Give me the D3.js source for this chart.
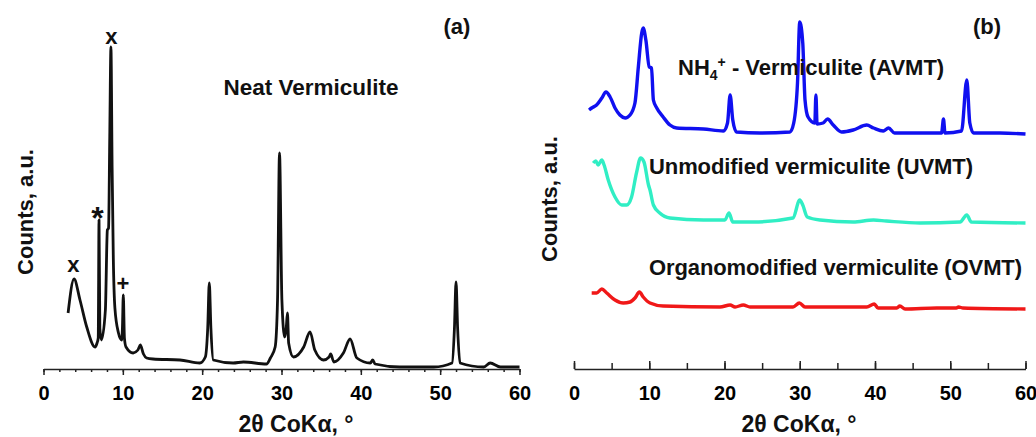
<!DOCTYPE html>
<html>
<head>
<meta charset="utf-8">
<script src="https://cdn.jsdelivr.net/npm/d3@7"></script>
<style>
  body { margin: 0; background: #fff; }
  svg { display: block; font-family: Arial, "Liberation Sans", sans-serif; }
  .tick text { font-size: 20px; font-weight: bold; fill: #000; }
  .lbl { font-weight: bold; fill: #111; }
</style>
</head>
<body>
<svg id="chart" width="1036" height="437"></svg>
<script>
// panel (a) neat vermiculite: 2theta and counts (a.u.)
const neatTheta = [3.1, 3.85, 4.6, 5.45, 6.5, 6.75, 6.9, 7.0, 7.1, 7.3, 7.8, 8.05, 8.2, 8.35, 8.5, 8.65, 8.8, 9.0, 9.45, 9.85, 9.95, 10.06, 10.2, 10.4, 11.3, 11.9, 12.2, 12.6, 13.0, 13.8, 17.2, 19.7, 20.4, 20.7, 20.9, 21.1, 21.4, 23.9, 25.2, 28.1, 28.6, 29.2, 29.5, 29.75, 30.05, 30.4, 30.6, 30.75, 30.9, 31.5, 32.8, 33.6, 34.2, 35.3, 36.0, 36.2, 36.6, 37.8, 38.65, 39.5, 41.2, 41.5, 41.8, 44.9, 49.2, 51.5, 51.8, 52.0, 52.2, 52.5, 55.5, 56.3, 57.6, 60];
const neatCounts = [55, 89, 68, 41, 21, 25, 30, 148, 40, 28, 58, 138, 140, 230, 321, 200, 110, 60, 35, 28, 40, 73, 30, 21, 15, 18, 23, 14, 10, 9, 8, 5, 11, 40, 85, 40, 8, 5, 6, 4, 10, 21, 68, 215, 68, 31, 40, 55, 25, 11, 21, 36, 18, 8, 11, 14, 6, 15, 29, 10, 5, 8, 4, 1, 1, 5, 40, 86, 40, 5, 1, 5, 1, 1];

// peak markers in panel (a)
const markTheta = [3.75, 8.55, 6.8, 10.0];
const markCounts = [96, 324, 158, 77];
const markText = ["x", "x", "*", "+"];

// panel (b)
const avmtTheta = [2.0, 2.35, 3.0, 3.7, 4.25, 4.8, 5.45, 6.1, 6.8, 7.45, 8.1, 8.55, 9.0, 9.2, 9.55, 10.0, 10.3, 10.55, 11.0, 11.85, 12.75, 13.65, 17.2, 19.85, 20.4, 20.75, 21.1, 21.6, 24.7, 28.7, 29.2, 29.7, 30.0, 30.4, 30.7, 31.1, 32.0, 32.15, 32.3, 33.1, 33.7, 34.45, 35.55, 37.1, 38.9, 39.8, 41.1, 41.8, 42.6, 46.0, 48.85, 49.1, 49.3, 51.5, 52.2, 52.6, 53.1, 56.6, 60.0];
const avmtCounts = [258, 260, 263, 270, 276, 271, 260, 253, 250, 253, 265, 301, 335, 340, 328, 301, 300, 268, 260, 251, 243, 240, 239, 237, 245, 273, 248, 236, 235, 236, 245, 285, 346, 325, 268, 251, 245, 273, 244, 245, 249, 243, 236, 238, 243, 240, 237, 240, 235, 235, 235, 249, 235, 237, 288, 245, 235, 235, 234];

const uvmtTheta = [2.55, 2.9, 3.2, 3.7, 4.0, 4.55, 5.45, 6.35, 7.0, 7.65, 8.3, 8.85, 9.3, 9.9, 10.1, 10.55, 11.4, 12.75, 17.2, 20.05, 20.6, 21.1, 23.8, 29.1, 30.0, 30.4, 31.0, 32.7, 37.1, 39.8, 41.5, 46.0, 51.3, 52.2, 52.8, 60];
const uvmtCounts = [205, 207, 203, 208, 203, 188, 171, 163, 163, 171, 195, 210, 206, 183, 178, 163, 155, 150, 148, 148, 155, 146, 146, 150, 168, 163, 151, 148, 146, 148, 147, 145, 146, 153, 146, 145];

const ovmtTheta = [2.35, 3.0, 3.7, 4.35, 5.45, 6.55, 7.45, 8.1, 8.7, 9.2, 10.1, 11.85, 19.4, 20.75, 21.4, 22.5, 23.4, 29.1, 29.95, 30.7, 38.9, 39.9, 40.4, 42.9, 43.3, 44.0, 48.2, 50.8, 51.1, 51.7, 60];
const ovmtCounts = [75, 75, 79, 75, 68, 65, 66, 70, 76, 71, 65, 62, 61, 63, 61, 63, 61, 61, 65, 61, 61, 64, 60, 60, 62, 59, 60, 60, 61, 60, 59];

const seriesNames = ["NH4+ - Vermiculite (AVMT)", "Unmodified vermiculite (UVMT)", "Organomodified vermiculite (OVMT)"];
const seriesColors = ["#1010f0", "#30eec4", "#f01818"];

const majorTicks = [0, 10, 20, 30, 40, 50, 60];

const svg = d3.select("#chart");
const zip = (xs, ys) => xs.map((x, i) => [x, ys[i]]);

// ---- panel (a)
const xa = d3.scaleLinear().domain([0, 60]).range([43.5, 519.5]);
const ya = d3.scaleLinear().domain([0, 368]).range([368, 0]);

const gA = svg.append("g");
gA.append("g")
    .attr("transform", "translate(0,369)")
    .call(d3.axisBottom(xa).tickValues(d3.range(0, 61, 2)).tickSize(3).tickSizeOuter(0).tickFormat(""))
    .call(g => g.selectAll("line,path").attr("stroke", "#222").attr("stroke-width", 1.5));
gA.append("g")
    .attr("transform", "translate(0,369)")
    .call(d3.axisBottom(xa).tickValues(majorTicks).tickSize(6).tickSizeOuter(0).tickPadding(11))
    .call(g => g.select(".domain").remove())
    .call(g => g.selectAll("line").attr("stroke", "#222").attr("stroke-width", 1.5));

const lineA = d3.line().x(d => xa(d[0])).y(d => ya(d[1])).curve(d3.curveMonotoneX);
gA.append("path")
    .datum(zip(neatTheta, neatCounts))
    .attr("d", lineA)
    .attr("fill", "none")
    .attr("stroke", "#111")
    .attr("stroke-width", 2.8)
    .attr("stroke-linejoin", "round");

gA.selectAll(".mark")
    .data(markText)
  .enter().append("text")
    .attr("class", "lbl")
    .attr("x", (d, i) => xa(markTheta[i]))
    .attr("y", (d, i) => ya(markCounts[i]))
    .attr("text-anchor", "middle")
    .attr("font-size", d => d === "*" ? 32 : 22)
    .attr("dy", d => d === "*" ? "0.6em" : 0)
    .text(d => d);

gA.append("text").attr("class", "lbl").attr("x", 311).attr("y", 95)
    .attr("text-anchor", "middle").attr("font-size", 22.5).text("Neat Vermiculite");
gA.append("text").attr("class", "lbl").attr("x", 457).attr("y", 34)
    .attr("text-anchor", "middle").attr("font-size", 22).text("(a)");
gA.append("text").attr("class", "lbl").attr("x", 296).attr("y", 432)
    .attr("text-anchor", "middle").attr("font-size", 23).text("2θ CoKα, °");
gA.append("text").attr("class", "lbl")
    .attr("transform", "translate(33,212) rotate(-90)")
    .attr("text-anchor", "middle").attr("font-size", 22).text("Counts, a.u.");

// ---- panel (b)
const xb = d3.scaleLinear().domain([0, 60]).range([574, 1025.5]);
const yb = d3.scaleLinear().domain([0, 368]).range([368, 0]);

const gB = svg.append("g");
gB.append("g")
    .attr("transform", "translate(0,369)")
    .call(d3.axisBottom(xb).tickValues(d3.range(0, 61, 5)).tickSize(-6).tickSizeOuter(0).tickFormat(""))
    .call(g => g.selectAll("line,path").attr("stroke", "#222").attr("stroke-width", 1.5));
gB.append("g")
    .attr("transform", "translate(0,369)")
    .call(d3.axisBottom(xb).tickValues(majorTicks).tickSize(-8).tickSizeOuter(0).tickPadding(17))
    .call(g => g.select(".domain").remove())
    .call(g => g.selectAll("line").attr("stroke", "#222").attr("stroke-width", 1.5));

const lineB = d3.line().x(d => xb(d[0])).y(d => yb(d[1])).curve(d3.curveMonotoneX);
const seriesB = [zip(avmtTheta, avmtCounts), zip(uvmtTheta, uvmtCounts), zip(ovmtTheta, ovmtCounts)];
gB.selectAll(".series")
    .data(seriesB)
  .enter().append("path")
    .attr("d", lineB)
    .attr("fill", "none")
    .attr("stroke", (d, i) => seriesColors[i])
    .attr("stroke-width", 3.4)
    .attr("stroke-linejoin", "round");

// series labels
const nh = gB.append("text").attr("class", "lbl").attr("x", 678).attr("y", 75).attr("font-size", 22);
nh.append("tspan").text("NH");
nh.append("tspan").attr("font-size", 14).attr("dy", 5).text("4");
nh.append("tspan").attr("font-size", 14).attr("dy", -13).text("+");
nh.append("tspan").attr("dy", 8).text(" - Vermiculite (AVMT)");
gB.append("text").attr("class", "lbl").attr("x", 649).attr("y", 174).attr("font-size", 22)
    .attr("textLength", 324).text(seriesNames[1]);
gB.append("text").attr("class", "lbl").attr("x", 649).attr("y", 275).attr("font-size", 22)
    .attr("textLength", 373).text(seriesNames[2]);

gB.append("text").attr("class", "lbl").attr("x", 987).attr("y", 34)
    .attr("text-anchor", "middle").attr("font-size", 22).text("(b)");
gB.append("text").attr("class", "lbl").attr("x", 799).attr("y", 432)
    .attr("text-anchor", "middle").attr("font-size", 23).text("2θ CoKα, °");
gB.append("text").attr("class", "lbl")
    .attr("transform", "translate(557,199) rotate(-90)")
    .attr("text-anchor", "middle").attr("font-size", 22).text("Counts, a.u.");
</script>
</body>
</html>
